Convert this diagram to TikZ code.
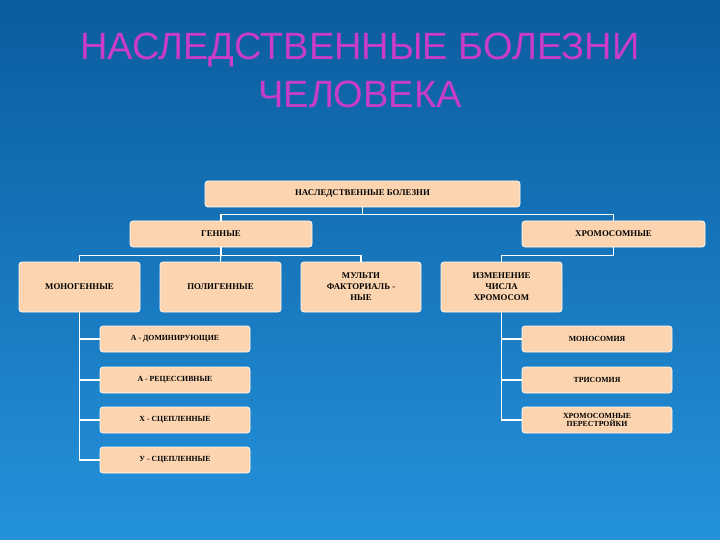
\documentclass[tikz,border=0pt]{standalone}
\usepackage{fontspec}
\setmainfont{Liberation Serif}
\newfontfamily\titlefont{Liberation Sans}
\definecolor{bgtop}{HTML}{0B5C9E}
\definecolor{bgbot}{HTML}{2492DC}
\definecolor{boxfill}{HTML}{FCD5B0}
\definecolor{ttl}{HTML}{C83CC8}
\begin{document}
\begin{tikzpicture}[x=1pt,y=-1pt,
  bx/.style={draw=white!85!boxfill,line width=0.8pt,fill=boxfill,rounded corners=3pt,
    font=\bfseries\fontsize{8.8}{11}\selectfont,align=center,inner sep=1pt,anchor=center},
  sb/.style={bx,minimum width=150,minimum height=26,font=\bfseries\fontsize{7.8}{9}\selectfont},
  ln/.style={draw=white,line width=1.2pt}]
\shade[top color=bgtop,bottom color=bgbot] (0,0) rectangle (720,540);
\useasboundingbox (0,0) rectangle (720,540);
\node[text=ttl,font=\titlefont\fontsize{38}{48}\selectfont,align=center] (title) at (360,70) {НАСЛЕДСТВЕННЫЕ БОЛЕЗНИ\\ЧЕЛОВЕКА};
\node[bx,minimum width=315,minimum height=26] (top) at (362.5,194) {НАСЛЕДСТВЕННЫЕ БОЛЕЗНИ};
\node[bx,minimum width=182,minimum height=26] (gen) at (221,234) {ГЕННЫЕ};
\node[bx,minimum width=183,minimum height=26] (chr) at (613.5,234) {ХРОМОСОМНЫЕ};
\node[bx,minimum width=121,minimum height=50] (mono) at (79.5,287) {МОНОГЕННЫЕ};
\node[bx,minimum width=121,minimum height=50] (poly) at (220.5,287) {ПОЛИГЕННЫЕ};
\node[bx,minimum width=120,minimum height=50] (mult) at (361,287) {МУЛЬТИ\\ФАКТОРИАЛЬ -\\НЫЕ};
\node[bx,minimum width=121,minimum height=50] (izm) at (501.5,287) {ИЗМЕНЕНИЕ\\ЧИСЛА\\ХРОМОСОМ};
\foreach \n/\t/\y in {a/А - ДОМИНИРУЮЩИЕ/339,b/А - РЕЦЕССИВНЫЕ/380,c/Х - СЦЕПЛЕННЫЕ/420,d/У - СЦЕПЛЕННЫЕ/460}
  \node[sb] (\n) at (175,\y) {\t};
\node[sb] (m1) at (597,339) {МОНОСОМИЯ};
\node[sb] (m2) at (597,380) {ТРИСОМИЯ};
\node[sb,font=\bfseries\fontsize{7.8}{8.5}\selectfont] (m3) at (597,420) {ХРОМОСОМНЫЕ\\ПЕРЕСТРОЙКИ};
\draw[ln] (top.south) -- ++(0,7) -| (gen.north);
\draw[ln] (top.south) ++(0,7) -| (chr.north);
\draw[ln] (gen.south) -- ++(0,8) -| (mono.north);
\draw[ln] (gen.south) -- (poly.north);
\draw[ln] (gen.south) ++(0,8) -| (mult.north);
\draw[ln] (chr.south) -- ++(0,8) -| (izm.north);
\draw[ln] (mono.south) |- (d.west);
\foreach \n in {a,b,c} \draw[ln] (mono.south) |- (\n.west);
\draw[ln] (izm.south) |- (m3.west);
\foreach \n in {m1,m2} \draw[ln] (izm.south) |- (\n.west);
\end{tikzpicture}
\end{document}
